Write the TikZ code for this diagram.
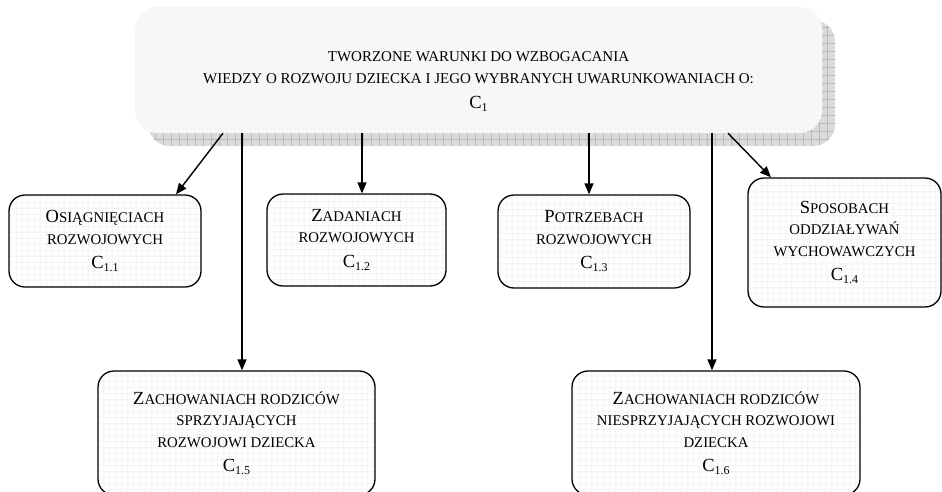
\documentclass[tikz,border=0pt]{standalone}
\usepackage{fontspec}
\setmainfont{Liberation Serif}
\usetikzlibrary{arrows.meta}

% initial capital of a small-caps heading
\newcommand\Ini[1]{{\fontsize{18.5}{21.5}\selectfont #1}}
% symbol C with an index
\newcommand\Cidx[1]{{\fontsize{18.5}{21.5}\selectfont C}\raisebox{-3pt}{\fontsize{12}{12}\selectfont #1}}

\tikzset{
  leaf/.style={draw, line width=1.3pt, rounded corners=16pt, fill=gray!1,
    align=center, inner sep=0pt, font=\fontsize{14.8}{21.5}\selectfont,
    path picture={\draw[gray!8, line width=0.3pt, step=6pt]
      (path picture bounding box.south west) grid (path picture bounding box.north east);}},
  shadowbox/.style={fill=gray!28, rounded corners=22pt, inner sep=0pt,
    path picture={\draw[gray!55, line width=0.5pt, step=8pt]
      (path picture bounding box.south west) grid (path picture bounding box.north east);}},
  mainbox/.style={fill=gray!6, rounded corners=22pt, inner sep=0pt},
  arr/.style={line width=1.4pt, -{Triangle[length=11pt,width=9pt]}},
}

\begin{document}
\begin{tikzpicture}[x=1pt,y=-1pt]
\clip (0,0) rectangle (942,491);
\fill[white] (0,0) rectangle (942,491);

% heading box with its grid shadow
\node[shadowbox, minimum width=687pt, minimum height=126pt] (shade) at (491.5,83) {};
\node[mainbox, minimum width=687pt, minimum height=126pt] (top) at (478.5,70) {};
\node[anchor=north, align=center, inner sep=0pt, font=\fontsize{15}{22}\selectfont]
  (toptext) at (478.5,51)
  {TWORZONE WARUNKI DO WZBOGACANIA\\
   WIEDZY O ROZWOJU DZIECKA I JEGO WYBRANYCH UWARUNKOWANIACH O:\\[3pt]
   \Cidx{1}};

% sub-goals
\node[leaf, minimum width=192pt, minimum height=92pt] (c11) at (105,241)
  {\Ini{O}SIĄGNIĘCIACH\\ ROZWOJOWYCH\\[3pt] \Cidx{1.1}};
\node[leaf, minimum width=179pt, minimum height=92pt] (c12) at (356.5,240)
  {\Ini{Z}ADANIACH\\ ROZWOJOWYCH\\[3pt] \Cidx{1.2}};
\node[leaf, minimum width=192pt, minimum height=93pt] (c13) at (594,241.5)
  {\Ini{P}OTRZEBACH\\ ROZWOJOWYCH\\[3pt] \Cidx{1.3}};
\node[leaf, minimum width=193pt, minimum height=129pt] (c14) at (844.5,242.5)
  {\Ini{S}POSOBACH\\ ODDZIAŁYWAŃ\\ WYCHOWAWCZYCH\\[3pt] \Cidx{1.4}};
\node[leaf, minimum width=277pt, minimum height=124pt] (c15) at (236.5,433)
  {\Ini{Z}ACHOWANIACH RODZICÓW\\ SPRZYJAJĄCYCH\\ ROZWOJOWI DZIECKA\\[3pt] \Cidx{1.5}};
\node[leaf, minimum width=288pt, minimum height=124pt] (c16) at (716,433)
  {\Ini{Z}ACHOWANIACH RODZICÓW\\ NIESPRZYJAJĄCYCH ROZWOJOWI\\ DZIECKA\\[3pt] \Cidx{1.6}};

% connectors
\draw[arr] (top.south -| 223,0) -- (c11.north -| 176,0);
\draw[arr] (top.south -| 242,0) -- (c15.north -| 242,0);
\draw[arr] (top.south -| 362,0) -- (c12.north -| 362,0);
\draw[arr] (top.south -| 589,0) -- (c13.north -| 589,0);
\draw[arr] (top.south -| 712,0) -- (c16.north -| 712,0);
\draw[arr] (top.south -| 728,0) -- (c14.north -| 771,0);
\end{tikzpicture}
\end{document}
